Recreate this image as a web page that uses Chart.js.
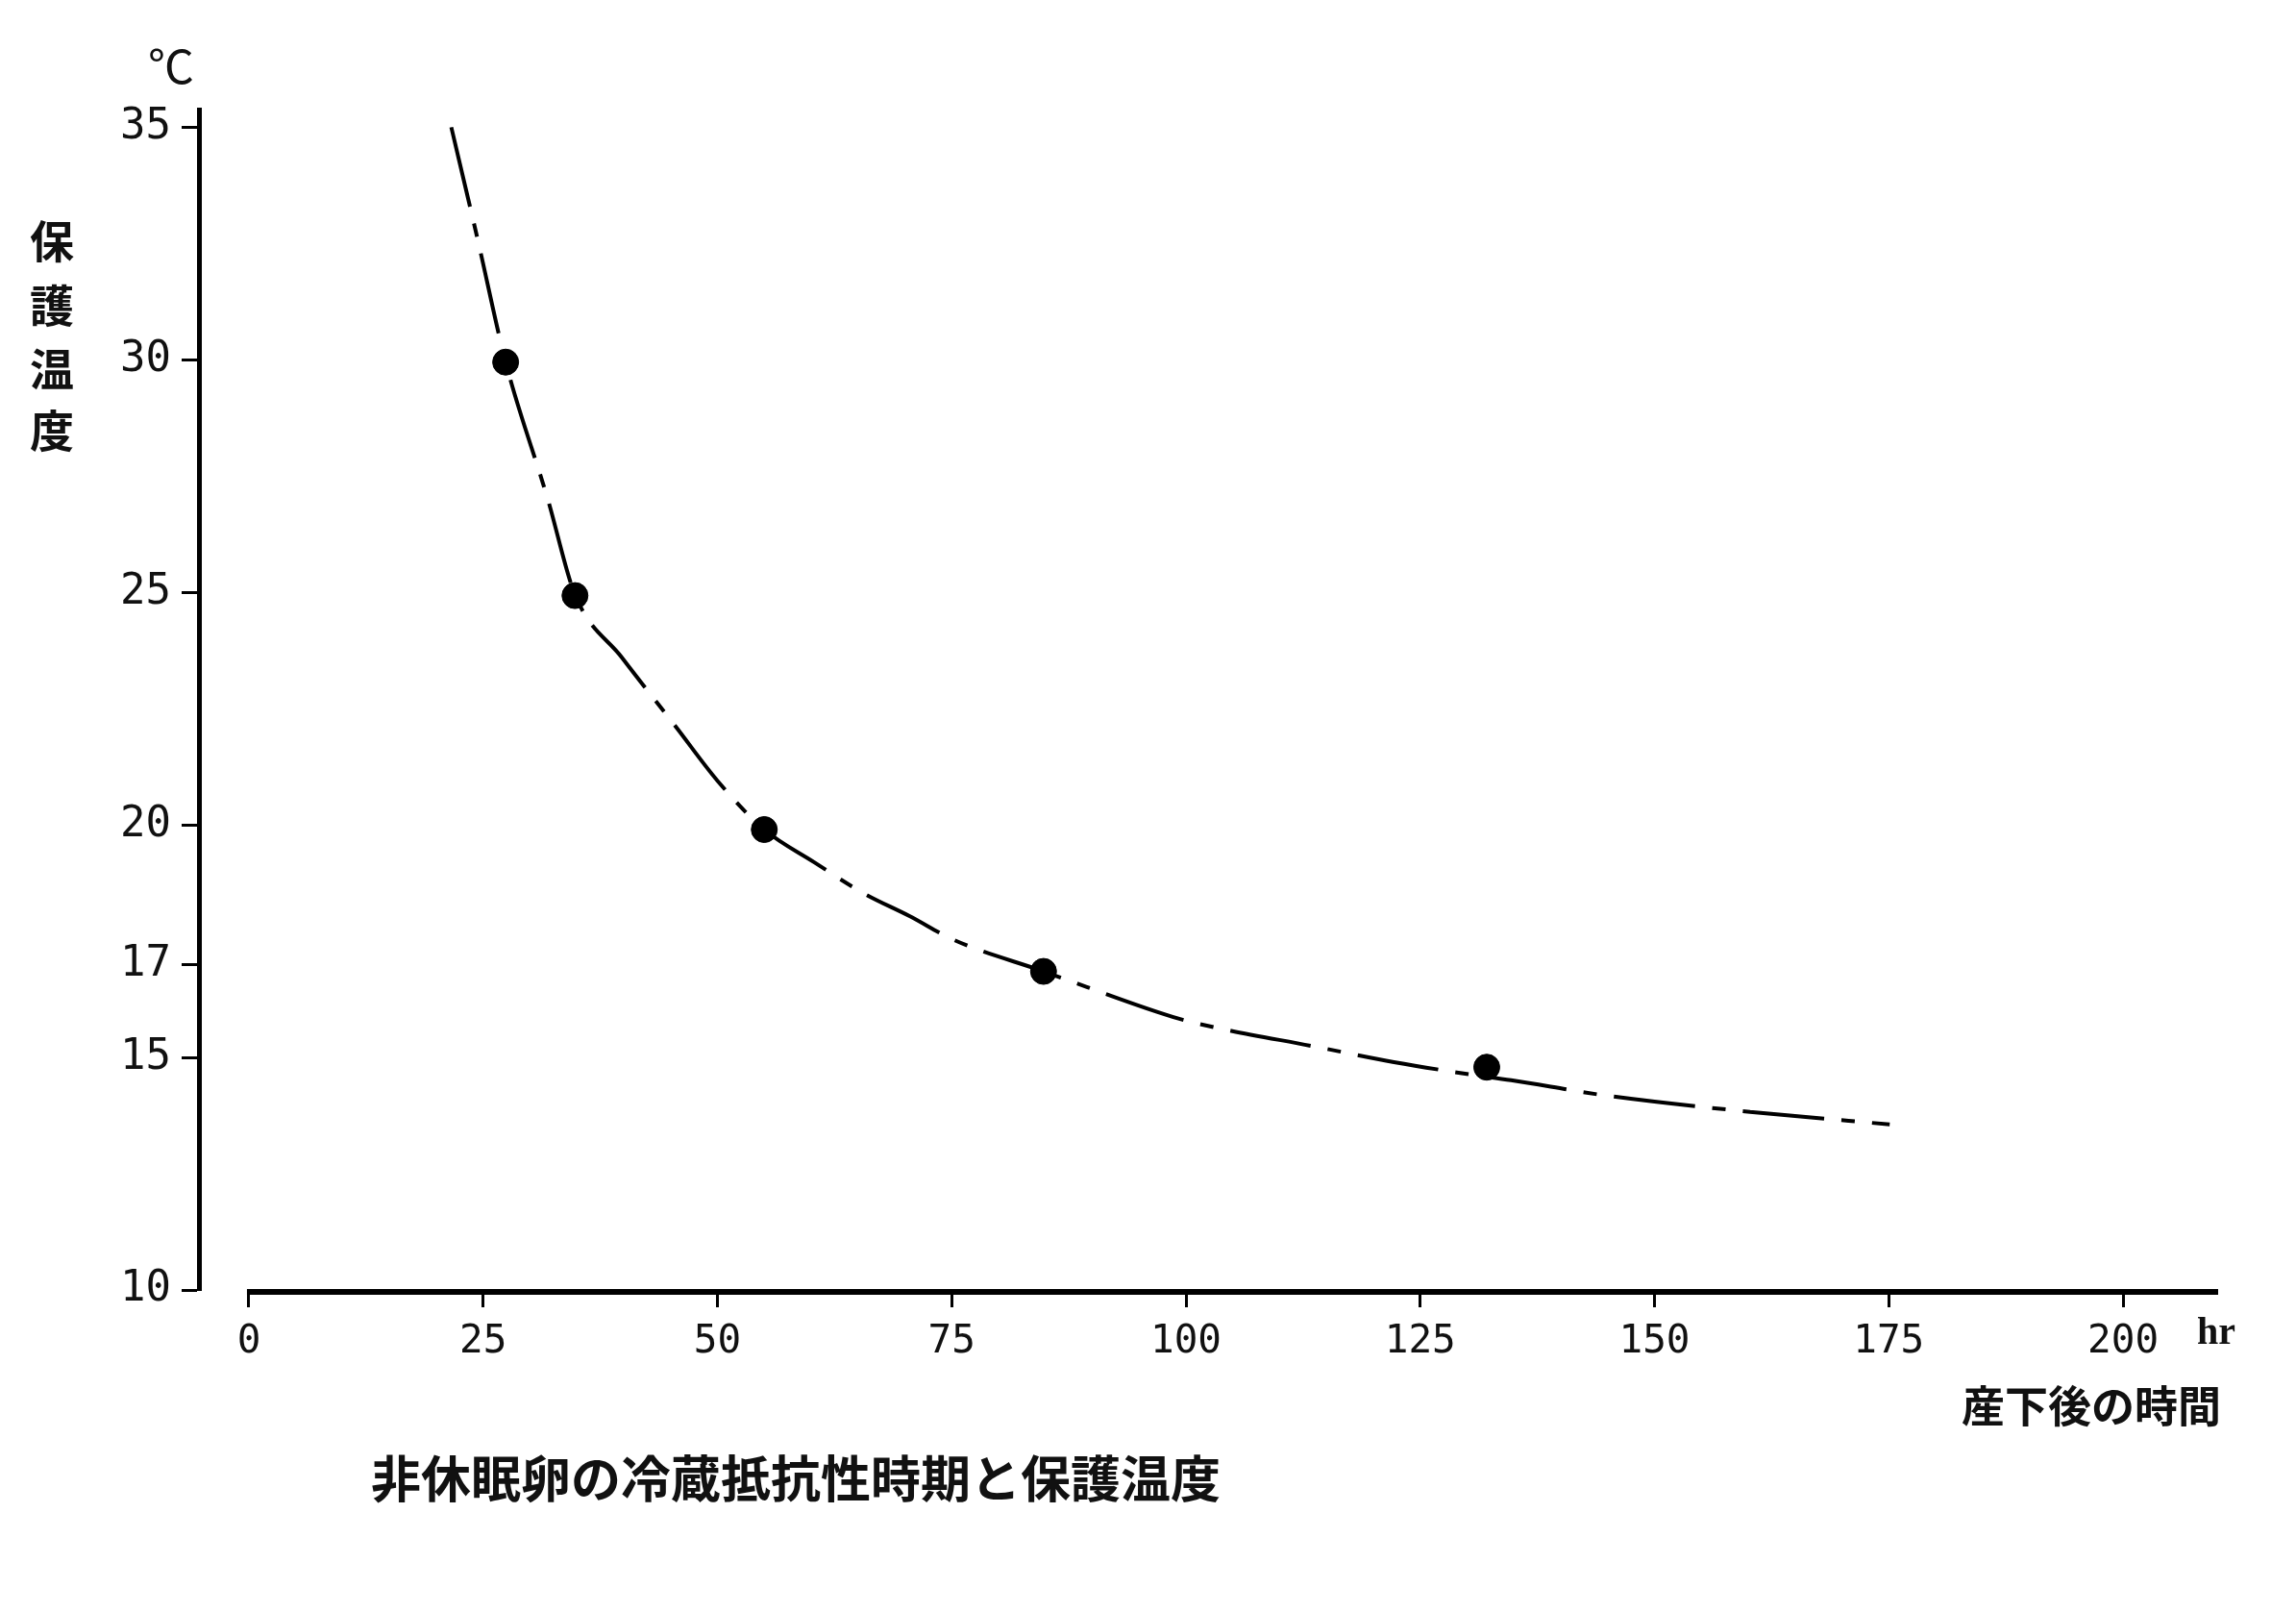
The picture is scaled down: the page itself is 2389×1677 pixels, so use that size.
<!DOCTYPE html>
<html lang="ja">
<head>
<meta charset="utf-8">
<title>非休眠卵の冷蔵抵抗性時期と保護温度</title>
<script src="https://cdn.jsdelivr.net/npm/chart.js@4/dist/chart.umd.min.js"></script>
<style>
  html, body { margin: 0; padding: 0; background: #fff; }
  #wrap { position: relative; width: 2389px; height: 1677px; }
</style>
</head>
<body>
<div id="wrap"><canvas id="chart"></canvas></div>
<script>
// tick values
const xTicks = [0, 25, 50, 75, 100, 125, 150, 175, 200];
const yTicks = [10, 15, 17, 20, 25, 30, 35];

// measured points (hours after laying, protective temperature)
const markerHours = [27.4, 34.8, 55.0, 84.8, 132.1];
const markerTemps = [29.95, 24.93, 19.9, 16.85, 14.79];

// hand drawn curve
const curveHours = [21.6, 24.4, 27.4, 31.9, 34.8, 39.8, 45.6, 50.0, 55.0, 60.3, 65.6, 70.5, 75.3, 84.8, 96.9, 100, 114.6, 122.2, 129.8, 134.7, 144.5, 160.2, 175.1];
const curveTemps = [35.0, 32.6, 29.95, 27.0, 24.95, 23.6, 22.1, 20.95, 19.9, 19.2, 18.53, 18.04, 17.52, 16.85, 15.98, 15.79, 15.2, 14.9, 14.65, 14.51, 14.19, 13.83, 13.56];

const titleText = '非休眠卵の冷蔵抵抗性時期と保護温度';
const xLabel = '産下後の時間';
const xUnit = 'hr';
const yLabel = ['保', '護', '温', '度'];
const yUnit = '℃';

const jpFont = '"Noto Sans CJK JP", "Noto Sans CJK SC", sans-serif';
const numFont = '"DejaVu Sans Mono", monospace';

function toPoints(xs, ys) {
  return xs.map((x, i) => ({ x: x, y: ys[i] }));
}

// texts around the plot and the x axis line (it starts at 0, not at the y axis)
const decorPlugin = {
  id: 'decor',
  beforeDraw(chart) {
    const ctx = chart.ctx;
    ctx.save();
    ctx.fillStyle = '#fff';
    ctx.fillRect(0, 0, chart.width, chart.height);
    ctx.restore();
  },
  afterDraw(chart) {
    const ctx = chart.ctx;
    const xs = chart.scales.x;
    const ys = chart.scales.y;
    const area = chart.chartArea;
    ctx.save();

    // x axis line
    const y0 = ys.getPixelForValue(yTicks[0]) + 2;
    ctx.strokeStyle = '#000';
    ctx.lineWidth = 6;
    ctx.lineCap = 'butt';
    ctx.beginPath();
    ctx.moveTo(xs.getPixelForValue(xTicks[0]) - 2, y0);
    ctx.lineTo(area.right, y0);
    ctx.stroke();

    ctx.fillStyle = '#111';

    // unit of y
    ctx.font = '48px ' + jpFont;
    ctx.textAlign = 'center';
    ctx.textBaseline = 'middle';
    ctx.fillText(yUnit, 178, 69);

    // vertical y label
    ctx.font = 'bold 46px ' + jpFont;
    const yLabelPos = [251, 318, 384, 448];
    yLabel.forEach((ch, i) => ctx.fillText(ch, 54, yLabelPos[i]));

    // hr
    ctx.font = 'bold 40px "Liberation Serif", serif';
    ctx.textAlign = 'left';
    ctx.textBaseline = 'alphabetic';
    ctx.fillText(xUnit, 2286, 1398);

    // x label
    ctx.font = 'bold 45px ' + jpFont;
    ctx.textAlign = 'right';
    ctx.textBaseline = 'middle';
    ctx.fillText(xLabel, 2311, 1463);

    // caption
    ctx.font = 'bold 52px ' + jpFont;
    ctx.textAlign = 'left';
    ctx.fillText(titleText, 386, 1538);

    ctx.restore();
  }
};

const chartData = {
  datasets: [
    {
      type: 'scatter',
      label: '保護温度',
      data: toPoints(markerHours, markerTemps),
      backgroundColor: '#000',
      borderColor: '#000',
      pointRadius: 13.5,
      pointHoverRadius: 13.5,
      showLine: false,
      order: 0
    },
    {
      type: 'line',
      label: 'curve',
      data: toPoints(curveHours, curveTemps),
      borderColor: '#000',
      borderWidth: 4,
      borderDash: [85, 18, 14, 18],
      pointRadius: 0,
      fill: false,
      cubicInterpolationMode: 'monotone',
      order: 1
    }
  ]
};

const chartOptions = {
  responsive: true,
  maintainAspectRatio: false,
  animation: false,
  events: [],
  layout: { padding: { left: 0, top: 114, right: 81, bottom: 0 } },
  plugins: {
    legend: { display: false },
    tooltip: { enabled: false },
    title: { display: false }
  },
  scales: {
    x: {
      type: 'linear',
      min: -5.33,
      max: 210.15,
      afterBuildTicks: (scale) => { scale.ticks = xTicks.map(v => ({ value: v })); },
      afterFit: (scale) => { scale.height = 335; },
      grid: {
        drawOnChartArea: false,
        drawTicks: true,
        tickLength: 18,
        tickWidth: 3,
        tickColor: '#000'
      },
      border: { display: false },
      ticks: {
        color: '#111',
        padding: 12,
        maxRotation: 0,
        autoSkip: false,
        font: { family: numFont, size: 41 }
      }
    },
    y: {
      type: 'linear',
      min: 10,
      max: 35.38,
      afterBuildTicks: (scale) => { scale.ticks = yTicks.map(v => ({ value: v })); },
      afterFit: (scale) => { scale.width = 207; },
      grid: {
        drawOnChartArea: false,
        drawTicks: true,
        tickLength: 18,
        tickWidth: 3,
        tickColor: '#000'
      },
      border: { display: true, color: '#000', width: 5 },
      ticks: {
        color: '#111',
        padding: 11,
        autoSkip: false,
        font: { family: numFont, size: 44 }
      }
    }
  }
};

const chartContainer = document.getElementById('chart');
chartContainer.chart = new Chart(chartContainer, {
  type: 'scatter',
  data: chartData,
  options: chartOptions,
  plugins: [decorPlugin]
});
</script>
</body>
</html>
